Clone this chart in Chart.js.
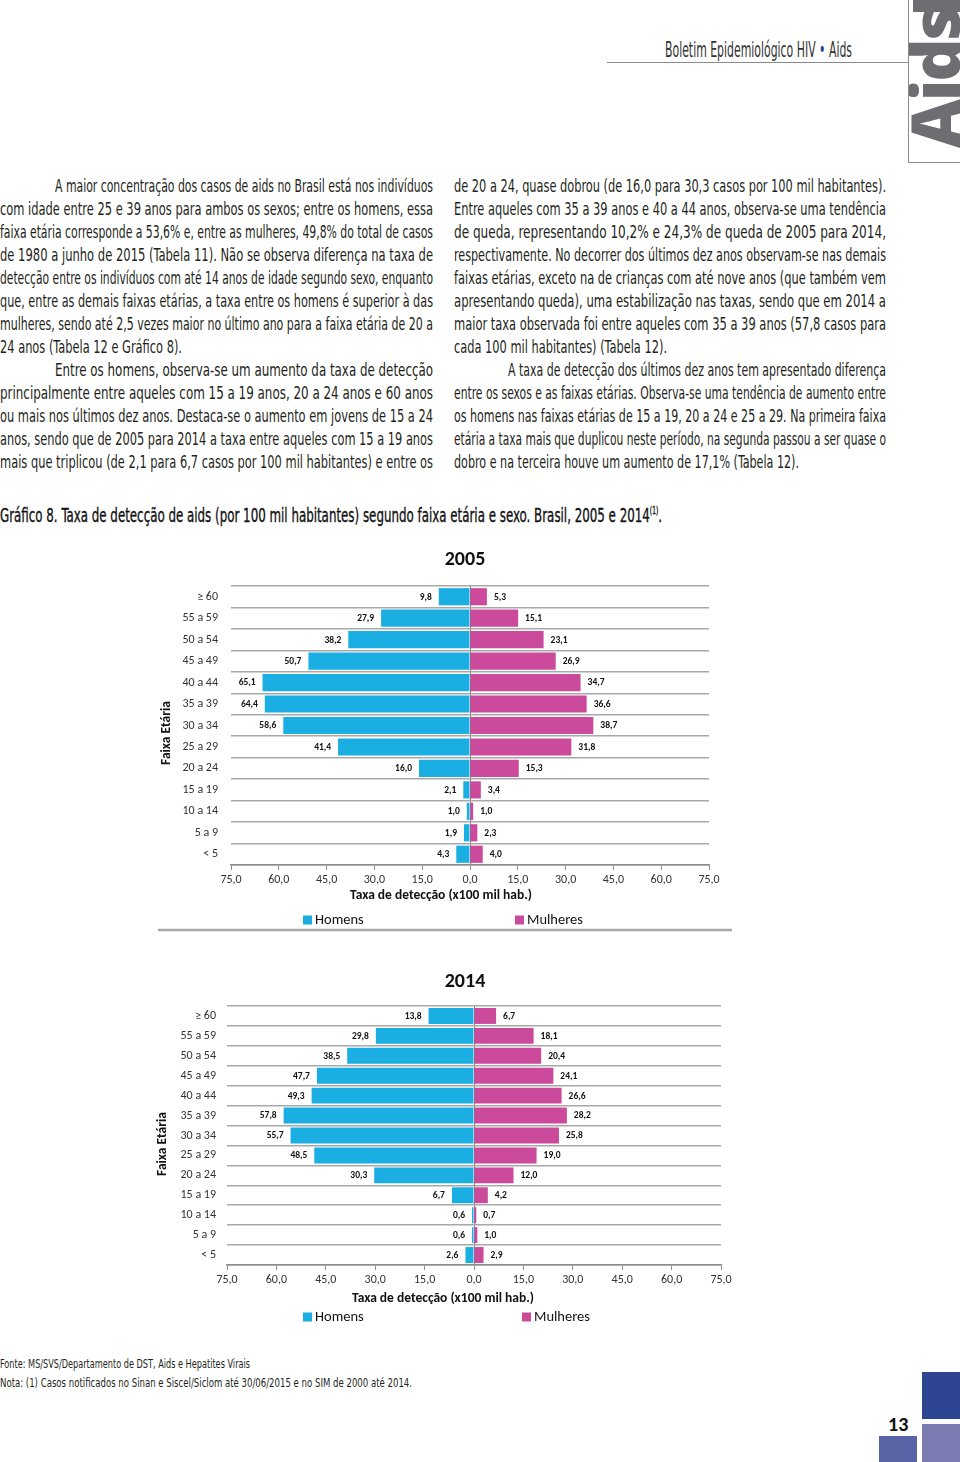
<!DOCTYPE html>
<html><head><meta charset="utf-8">
<script src="https://cdn.jsdelivr.net/npm/chart.js@4.4.1/dist/chart.umd.min.js"></script>
<style>
html,body{margin:0;padding:0;background:#fff;}
#page{position:relative;width:960px;height:1462px;overflow:hidden;background:#fff;}
.t{position:absolute;white-space:nowrap;font-family:"Liberation Sans Narrow","DejaVu Sans Condensed",sans-serif;color:#231f20;transform-origin:0 0;}
.body{font-size:17px;line-height:22px;height:22px;}
canvas{position:absolute;}
</style></head>
<body><div id="page">

<div class="t fitme" data-w="187" style="left:665px;top:38px;font-size:21px;line-height:24px;color:#333">Boletim Epidemiológico HIV <span style="color:#2b3f8f">•</span> Aids</div>
<div style="position:absolute;left:607px;top:62px;width:301px;height:0;border-top:1.5px solid #8a8a8a"></div>
<div style="position:absolute;left:908px;top:0;width:52px;height:163px;border-left:1.5px solid #8a8a8a;border-bottom:1.5px solid #8a8a8a;overflow:hidden;box-sizing:border-box;">
  <div style="position:absolute;left:3.5px;top:0;width:50px;height:12px;background:#6d6e71"></div>
  <div style="position:absolute;left:0;top:0;transform-origin:0 0;transform:translate(-8.5px,148px) rotate(-90deg);font-family:'Open Sans',sans-serif;font-weight:800;font-size:67px;line-height:67px;color:#6d6e71;white-space:nowrap;letter-spacing:-2px">Aids</div>
</div>

<div id="textlines"></div>

<div class="t fitme" data-w="662" style="left:0;top:499px;font-size:20px;line-height:24px;color:#111;-webkit-text-stroke:0.35px #111">Gráfico 8. Taxa de detecção de aids (por 100 mil habitantes) segundo faixa etária e sexo. Brasil, 2005 e 2014<sup style="font-size:10px;vertical-align:8px">(1)</sup>.</div>

<canvas id="chart2005" width="600" height="400" style="left:150px;top:540px"></canvas>
<canvas id="chart2014" width="600" height="380" style="left:150px;top:960px"></canvas>

<div class="t fitme" data-w="250" style="left:0;top:1356px;font-size:13px;line-height:16px;color:#231f20">Fonte: MS/SVS/Departamento de DST, Aids e Hepatites Virais</div>
<div class="t fitme" data-w="412" style="left:0;top:1375px;font-size:13px;line-height:16px;color:#231f20">Nota: (1) Casos notificados no Sinan e Siscel/Siclom até 30/06/2015 e no SIM de 2000 até 2014.</div>

<div style="position:absolute;left:922px;top:1372px;width:38px;height:47px;background:#2e4592"></div>
<div style="position:absolute;left:922px;top:1424px;width:38px;height:38px;background:#7a7cb2"></div>
<div style="position:absolute;left:879px;top:1436px;width:38px;height:26px;background:#5a63a6"></div>
<div style="position:absolute;left:888px;top:1414px;font-family:Carlito,Lato,sans-serif;font-weight:bold;font-size:20px;line-height:20px;color:#111">13</div>

</div>
<script>
// ---------- chart data ----------
const ageGroups = ['≥ 60','55 a 59','50 a 54','45 a 49','40 a 44','35 a 39','30 a 34','25 a 29','20 a 24','15 a 19','10 a 14','5 a 9','< 5'];
const homens2005   = [9.8, 27.9, 38.2, 50.7, 65.1, 64.4, 58.6, 41.4, 16.0, 2.1, 1.0, 1.9, 4.3];
const mulheres2005 = [5.3, 15.1, 23.1, 26.9, 34.7, 36.6, 38.7, 31.8, 15.3, 3.4, 1.0, 2.3, 4.0];
const homens2014   = [13.8, 29.8, 38.5, 47.7, 49.3, 57.8, 55.7, 48.5, 30.3, 6.7, 0.6, 0.6, 2.6];
const mulheres2014 = [6.7, 18.1, 20.4, 24.1, 26.6, 28.2, 25.8, 19.0, 12.0, 4.2, 0.7, 1.0, 2.9];
const xTickValues  = [-75, -60, -45, -30, -15, 0, 15, 30, 45, 60, 75];
const seriesNames  = ['Homens', 'Mulheres'];
const yAxisTitle   = 'Faixa Etária';
const xAxisTitle   = 'Taxa de detecção (x100 mil hab.)';

// ---------- text lines ----------
const col1 = [
 [55,378,1,'A maior concentração dos casos de aids no Brasil está nos indivíduos'],
 [0,433,1,'com idade entre 25 e 39 anos para ambos os sexos; entre os homens, essa'],
 [0,433,1,'faixa etária corresponde a 53,6% e, entre as mulheres, 49,8% do total de casos'],
 [0,433,1,'de 1980 a junho de 2015 (Tabela 11). Não se observa diferença na taxa de'],
 [0,433,1,'detecção entre os indivíduos com até 14 anos de idade segundo sexo, enquanto'],
 [0,433,1,'que, entre as demais faixas etárias, a taxa entre os homens é superior à das'],
 [0,433,1,'mulheres, sendo até 2,5 vezes maior no último ano para a faixa etária de 20 a'],
 [0,182,0,'24 anos (Tabela 12 e Gráfico 8).'],
 [55,378,1,'Entre os homens, observa-se um aumento da taxa de detecção'],
 [0,433,1,'principalmente entre aqueles com 15 a 19 anos, 20 a 24 anos e 60 anos'],
 [0,433,1,'ou mais nos últimos dez anos. Destaca-se o aumento em jovens de 15 a 24'],
 [0,433,1,'anos, sendo que de 2005 para 2014 a taxa entre aqueles com 15 a 19 anos'],
 [0,433,1,'mais que triplicou (de 2,1 para 6,7 casos por 100 mil habitantes) e entre os']
];
const col2 = [
 [454,432,1,'de 20 a 24, quase dobrou (de 16,0 para 30,3 casos por 100 mil habitantes).'],
 [454,432,1,'Entre aqueles com 35 a 39 anos e 40 a 44 anos, observa-se uma tendência'],
 [454,432,1,'de queda, representando 10,2% e 24,3% de queda de 2005 para 2014,'],
 [454,432,1,'respectivamente. No decorrer dos últimos dez anos observam-se nas demais'],
 [454,432,1,'faixas etárias, exceto na de crianças com até nove anos (que também vem'],
 [454,432,1,'apresentando queda), uma estabilização nas taxas, sendo que em 2014 a'],
 [454,432,1,'maior taxa observada foi entre aqueles com 35 a 39 anos (57,8 casos para'],
 [454,213,0,'cada 100 mil habitantes) (Tabela 12).'],
 [508,378,1,'A taxa de detecção dos últimos dez anos tem apresentado diferença'],
 [454,432,1,'entre os sexos e as faixas etárias. Observa-se uma tendência de aumento entre'],
 [454,432,1,'os homens nas faixas etárias de 15 a 19, 20 a 24 e 25 a 29. Na primeira faixa'],
 [454,432,1,'etária a taxa mais que duplicou neste período, na segunda passou a ser quase o'],
 [454,345,0,'dobro e na terceira houve um aumento de 17,1% (Tabela 12).']
];
const holder = document.getElementById('textlines');
function fit(el, target, justify, base){
  const w = el.getBoundingClientRect().width;
  let scale = target / w;
  if (justify){
    const n = (el.textContent.match(/ /g)||[]).length;
    if (w*base < target && n > 0){ el.style.wordSpacing = ((target/base - w)/n) + 'px'; scale = base; }
  }
  el.style.transform = 'scaleX(' + scale + ')';
}
[col1, col2].forEach(col => col.forEach((ln, i) => {
  const d = document.createElement('div');
  d.className = 't body';
  d.style.left = ln[0] + 'px';
  d.style.top = (175 + 23*i) + 'px';
  d.textContent = ln[3];
  holder.appendChild(d);
  fit(d, ln[1], ln[2], 0.8);
}));
document.querySelectorAll('.fitme').forEach(el => fit(el, +el.dataset.w, false, 1));

// ---------- charts ----------
const FAM = 'Carlito, Lato, sans-serif';
const COL_H = '#1aaee3';
const COL_M = '#cc4a9c';
const fmt = v => Math.abs(v).toFixed(1).replace('.', ',');

const valueLabels = {
  id: 'valueLabels',
  afterDatasetsDraw(chart){
    const ctx = chart.ctx;
    ctx.save();
    ctx.font = 'bold 9.5px ' + FAM;
    ctx.fillStyle = '#111';
    ctx.textBaseline = 'middle';
    chart.data.datasets.forEach((ds, i) => {
      chart.getDatasetMeta(i).data.forEach((bar, j) => {
        const v = ds.data[j];
        if (v < 0){ ctx.textAlign = 'right'; ctx.fillText(fmt(v), bar.x - 7, bar.y + 0.5); }
        else { ctx.textAlign = 'left'; ctx.fillText(fmt(v), bar.x + 7, bar.y + 0.5); }
      });
    });
    ctx.restore();
  }
};
const decor = {
  id: 'decor',
  afterDraw(chart, args, o){
    const ctx = chart.ctx;
    ctx.save();
    ctx.fillStyle = '#111';
    ctx.textAlign = 'center'; ctx.textBaseline = 'middle';
    ctx.font = 'bold 20px ' + FAM;
    ctx.fillText(o.title, o.titleX, o.titleY);
    ctx.font = 'bold 13.5px ' + FAM;
    ctx.fillText(xAxisTitle, o.xTitle[0], o.xTitle[1]);
    ctx.save();
    ctx.translate(o.yTitle[0], o.yTitle[1]);
    ctx.rotate(-Math.PI / 2);
    ctx.fillText(yAxisTitle, 0, 0);
    ctx.restore();
    ctx.font = '14.5px ' + FAM;
    ctx.textAlign = 'left';
    chart.data.datasets.forEach((ds, i) => {
      const x = o.legendX[i];
      ctx.fillStyle = ds.backgroundColor;
      ctx.fillRect(x, o.legendY - 4.5, 9, 9);
      ctx.fillStyle = '#111';
      ctx.fillText(ds.label, x + 12, o.legendY + 0.5);
    });
    if (o.rule){
      ctx.strokeStyle = '#a8a8a8'; ctx.lineWidth = 2.5;
      ctx.beginPath(); ctx.moveTo(o.rule[0], o.rule[2]); ctx.lineTo(o.rule[1], o.rule[2]); ctx.stroke();
    }
    ctx.restore();
  }
};

function makeChart(id, homens, mulheres, L){
  return new Chart(document.getElementById(id), {
    type: 'bar',
    data: {
      labels: ageGroups,
      datasets: [
        {label: seriesNames[0], data: homens.map(v => -v), backgroundColor: COL_H, borderWidth: 0},
        {label: seriesNames[1], data: mulheres.slice(), backgroundColor: COL_M, borderWidth: 0}
      ]
    },
    options: {
      indexAxis: 'y',
      responsive: false,
      animation: false,
      devicePixelRatio: 1,
      layout: {padding: {top: L.top, right: L.right, left: 0, bottom: 0}},
      datasets: {bar: {categoryPercentage: 1, barPercentage: 0.8}},
      plugins: {
        legend: {display: false}, title: {display: false}, tooltip: {enabled: false},
        decor: L.decor
      },
      scales: {
        x: {
          type: 'linear', min: -75, max: 75, stacked: true,
          afterBuildTicks: s => { s.ticks = xTickValues.map(v => ({value: v})); },
          ticks: {callback: v => fmt(v), font: {family: FAM, size: 12}, color: '#333', padding: 3, maxRotation: 0, autoSkip: false},
          grid: {color: c => (c.tick && c.tick.value === 0) ? '#808080' : 'rgba(0,0,0,0)', lineWidth: 1, tickLength: 5, tickColor: '#8c8c8c'},
          border: {display: true, color: '#8c8c8c', width: 1.5},
          title: {display: false},
          afterFit: s => { s.height = 75; }
        },
        y: {
          stacked: true,
          ticks: {font: {family: FAM, size: 12}, color: '#333', padding: L.yp, autoSkip: false},
          grid: {color: '#a8a8a8', lineWidth: 1.5, drawTicks: false, offset: true},
          border: {display: false},
          title: {display: false},
          afterFit: s => { s.width = L.yw; }
        }
      }
    },
    plugins: [valueLabels, decor]
  });
}

makeChart('chart2005', homens2005, mulheres2005, {
  top: 46, right: 41, yw: 81, yp: 13,
  decor: {title: '2005', titleX: 315, titleY: 20, xTitle: [291, 356], yTitle: [17, 193],
          legendY: 380, legendX: [153, 365], rule: [8, 582, 390]}
});
makeChart('chart2014', homens2014, mulheres2014, {
  top: 46, right: 29, yw: 77, yp: 11,
  decor: {title: '2014', titleX: 315, titleY: 22, xTitle: [293, 339], yTitle: [13, 184],
          legendY: 357, legendX: [153, 372], rule: null}
});
</script>
</body></html>
